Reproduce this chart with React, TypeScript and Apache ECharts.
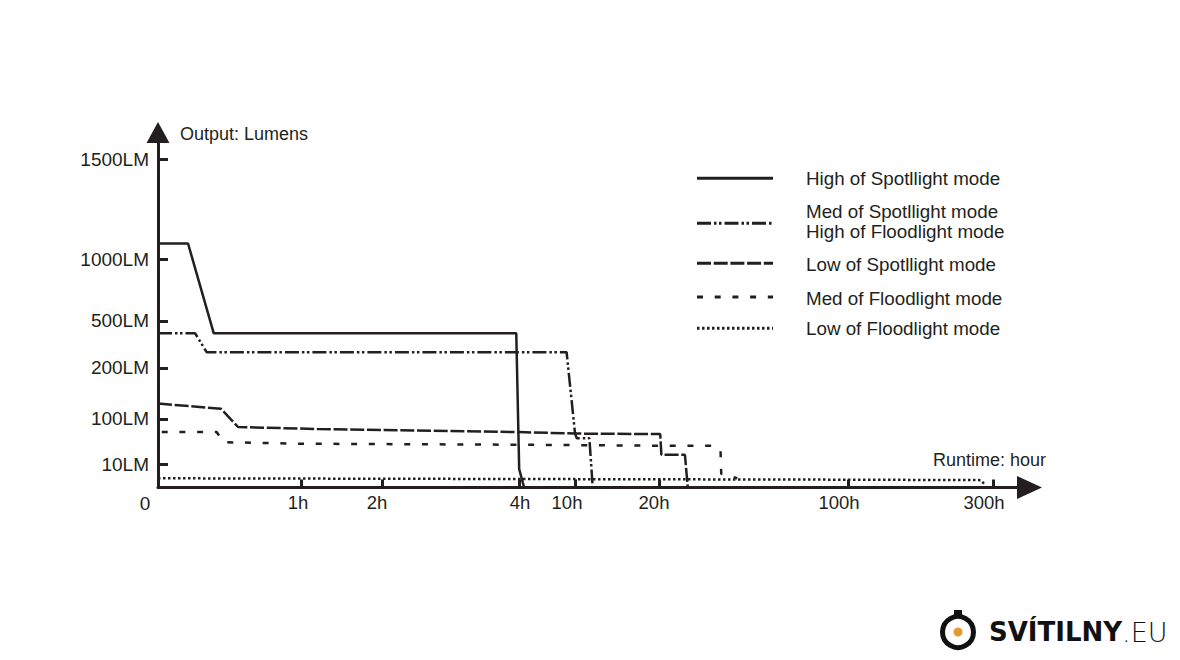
import React, { useEffect, useRef } from "react";
import * as echarts from "echarts";

// ---- Axis scales (non-linear, piecewise) ----
const X_ANCHOR_HOURS = [0, 1, 2, 4, 10, 20, 100, 300];
const X_ANCHOR_POS = [0, 143, 224, 361, 417, 501.5, 690, 835];
const X_TICK_LABELS = ["1h", "2h", "4h", "10h", "20h", "100h", "300h"];
const X_LABEL_POS = [140, 219, 362, 409, 496, 681, 826];

const Y_ANCHOR_LM = [0, 10, 100, 200, 500, 1000, 1500];
const Y_ANCHOR_POS = [0, 23, 68.5, 119.5, 166.5, 227.6, 328];
const Y_TICK_LABELS = ["10LM", "100LM", "200LM", "500LM", "1000LM", "1500LM"];

// ---- Series: [hours, lumens] ----
const HIGH_SPOT = [[0, 1080], [0.21, 1080], [0.39, 420], [3.96, 420], [4.02, 8], [4.55, 0]];
const MED_SPOT_HIGH_FLOOD = [[0, 420], [0.26, 420], [0.34, 300], [9.1, 300], [10, 72], [10.2, 62], [11.7, 62], [12.1, 0]];
const LOW_SPOT = [[0, 130], [0.44, 120], [0.56, 84], [1.2, 80], [4, 74], [10, 71], [20.3, 70], [20.8, 29], [30.8, 29], [32, 0]];
const MED_FLOOD = [[0, 74], [0.41, 74], [0.46, 54], [1, 51], [4, 49], [20, 47], [42.3, 47], [45.9, 39], [46.2, 6], [53, 4]];
const LOW_FLOOD = [[0, 4], [100, 3.4], [283, 3.2], [289, 1.2]];

const SERIES_NAMES = [
  "High of Spotllight mode",
  "Med of Spotllight mode\nHigh of Floodlight mode",
  "Low of Spotllight mode",
  "Med of Floodlight mode",
  "Low of Floodlight mode",
];

const INK = "#231f20";
const FONT = "'Liberation Sans', Arial, Helvetica, sans-serif";

const DASHES: (number[] | "solid")[] = [
  "solid",
  [14, 3, 2.5, 2.5, 2.5, 3],
  [14, 2.7],
  [6, 11.7],
  [2.5, 2.5],
];
const DASH_OFFSETS = [0, 0, 0, 14, 0];

function interp(v: number, xs: number[], ys: number[]) {
  if (v <= xs[0]) return ys[0];
  for (let i = 1; i < xs.length; i++) {
    if (v <= xs[i]) {
      const t = (v - xs[i - 1]) / (xs[i] - xs[i - 1]);
      return ys[i - 1] + t * (ys[i] - ys[i - 1]);
    }
  }
  const n = xs.length - 1;
  return ys[n] + ((v - xs[n]) * (ys[n] - ys[n - 1])) / (xs[n] - xs[n - 1]);
}
const mapX = (h: number) => interp(h, X_ANCHOR_HOURS, X_ANCHOR_POS);
const mapY = (l: number) => interp(l, Y_ANCHOR_LM, Y_ANCHOR_POS);

const ALL_SERIES = [HIGH_SPOT, MED_SPOT_HIGH_FLOOD, LOW_SPOT, MED_FLOOD, LOW_FLOOD];

export default function App() {
  const ref = useRef<HTMLDivElement>(null);
  useEffect(() => {
    if (!ref.current) return;
    const chart = echarts.init(ref.current, undefined, { renderer: "svg" });

    const xTickPos = X_ANCHOR_HOURS.slice(1).map(mapX);
    const yTickPos = Y_ANCHOR_LM.slice(1).map(mapY);

    const legendRows = [178.3, 223.3, 263.3, 297, 328.3];
    const legendTextY = [[178], [211.5, 231], [264], [298], [328]];
    const legendGraphics: any[] = [];
    SERIES_NAMES.forEach((name, i) => {
      const d = DASHES[i];
      legendGraphics.push({
        type: "line",
        shape: { x1: 697, y1: legendRows[i], x2: 773, y2: legendRows[i] },
        style: { stroke: INK, lineWidth: 3, lineDash: d === "solid" ? null : d },
        silent: true,
      });
      name.split("\n").forEach((t, j) => {
        legendGraphics.push({
          type: "text",
          x: 806,
          y: legendTextY[i][j],
          style: { text: t, fill: INK, font: `18.8px ${FONT}`, verticalAlign: "middle" },
          silent: true,
        });
      });
    });

    chart.setOption({
      animation: false,
      backgroundColor: "#ffffff",
      grid: { left: 158, right: 163, top: 143, bottom: 172.5, containLabel: false },
      xAxis: [
        {
          type: "value",
          min: 0,
          max: 859,
          position: "bottom",
          axisLine: {
            show: true,
            lineStyle: { color: INK, width: 3 },
            symbol: ["none", "triangle"],
            symbolSize: [23, 25],
            symbolOffset: [0, 12.5],
          },
          axisTick: { show: true, inside: true, length: 8, lineStyle: { color: INK, width: 3 }, customValues: xTickPos },
          axisLabel: { show: false },
          splitLine: { show: false },
        },
        {
          type: "value",
          min: 0,
          max: 859,
          position: "bottom",
          axisLine: { show: false },
          axisTick: { show: false },
          splitLine: { show: false },
          axisLabel: {
            show: true,
            customValues: X_LABEL_POS,
            margin: 5,
            color: INK,
            fontSize: 18.5,
            fontFamily: FONT,
            formatter: (v: number) => {
              let best = 0;
              X_LABEL_POS.forEach((p, i) => {
                if (Math.abs(p - v) < Math.abs(X_LABEL_POS[best] - v)) best = i;
              });
              return X_TICK_LABELS[best];
            },
          },
        },
      ],
      yAxis: {
        type: "value",
        min: 0,
        max: 344,
        axisLine: {
          show: true,
          lineStyle: { color: INK, width: 3 },
          symbol: ["none", "triangle"],
          symbolSize: [23, 21],
          symbolOffset: [0, 10.5],
        },
        axisTick: { show: true, inside: true, length: 10, lineStyle: { color: INK, width: 3 }, customValues: yTickPos },
        axisLabel: {
          show: true,
          customValues: yTickPos,
          margin: 9,
          color: INK,
          fontSize: 19,
          fontFamily: FONT,
          padding: [6, 0, 0, 0],
          formatter: (v: number) => {
            let best = 0;
            yTickPos.forEach((p, i) => {
              if (Math.abs(p - v) < Math.abs(yTickPos[best] - v)) best = i;
            });
            return Y_TICK_LABELS[best];
          },
        },
        splitLine: { show: false },
      },
      series: ALL_SERIES.map((s, i) => ({
        type: "line",
        name: SERIES_NAMES[i],
        xAxisIndex: 0,
        data: s.map(([h, l]) => [mapX(h), mapY(l)]),
        symbol: "none",
        clip: false,
        lineStyle: { color: INK, width: 2.5, type: DASHES[i], dashOffset: DASH_OFFSETS[i], cap: "butt" },
      })),
      graphic: [
        {
          type: "text",
          x: 180,
          y: 134,
          style: { text: "Output: Lumens", fill: INK, font: `18px ${FONT}`, verticalAlign: "middle" },
          silent: true,
        },
        {
          type: "text",
          x: 933,
          y: 460,
          style: { text: "Runtime: hour", fill: INK, font: `18px ${FONT}`, verticalAlign: "middle" },
          silent: true,
        },
        {
          type: "text",
          x: 145,
          y: 503,
          style: { text: "0", fill: INK, font: `19px ${FONT}`, align: "center", verticalAlign: "middle" },
          silent: true,
        },
        ...legendGraphics,
        // logo
        {
          type: "circle",
          shape: { cx: 958, cy: 632, r: 15.5 },
          style: { fill: "none", stroke: "#111111", lineWidth: 5 },
          silent: true,
        },
        {
          type: "rect",
          shape: { x: 954, y: 610, width: 8, height: 5 },
          style: { fill: "#111111" },
          silent: true,
        },
        {
          type: "circle",
          shape: { cx: 958, cy: 632, r: 4.5 },
          style: { fill: "#e39b2d" },
          silent: true,
        },
        {
          type: "text",
          x: 989,
          y: 632,
          style: {
            text: "{b|SVÍTILNY}{l|.EU}",
            verticalAlign: "middle",
            rich: {
              b: { fontFamily: "'DejaVu Sans', sans-serif", fontWeight: "bold", fontSize: 26, fill: "#111111" },
              l: { fontFamily: "'DejaVu Sans', sans-serif", fontWeight: 200, fontSize: 27, fill: "#111111" },
            },
          },
          silent: true,
        },
      ],
    });
    return () => chart.dispose();
  }, []);
  return (
    <div
      ref={ref}
      style={{ position: "fixed", left: 0, top: 0, width: 1180, height: 660, background: "#fff" }}
    />
  );
}
